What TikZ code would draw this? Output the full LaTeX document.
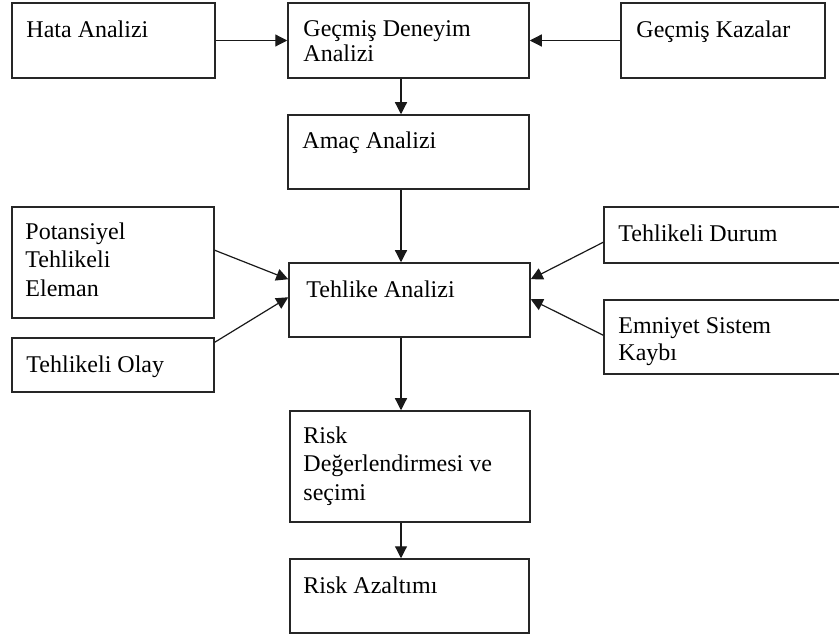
\documentclass[tikz,border=0pt]{standalone}
\usepackage{fontspec}
\setmainfont{Liberation Serif}
\usetikzlibrary{arrows.meta}
\begin{document}
\begin{tikzpicture}[x=1pt,y=-1pt,
  box/.style={draw=black!85, line width=1.5pt, rectangle, inner sep=0pt},
  lbl/.style={anchor=north west, inner sep=0pt, align=left,
    font=\fontsize{24}{27}\selectfont},
  arr/.style={draw=black!90, line width=1.2pt, -{Triangle[length=12pt,width=12pt]}}]
\useasboundingbox (0,0) rectangle (839,639);
\clip (0,0) rectangle (839,639);

% boxes
\node[box, minimum width=203pt, minimum height=75pt] (hata)  at (113.5,40.5) {};
\node[box, minimum width=241pt, minimum height=75pt] (gd)    at (408.5,40.5) {};
\node[box, minimum width=204pt, minimum height=75pt] (kaz)   at (723,40.5) {};
\node[box, minimum width=241pt, minimum height=74pt] (amac)  at (408.5,152) {};
\node[box, minimum width=202pt, minimum height=111pt] (pot)  at (113,262.5) {};
\node[box, minimum width=241pt, minimum height=74pt] (teh)   at (409.5,300) {};
\node[box, minimum width=202pt, minimum height=54pt] (olay)  at (113,365) {};
\node[box, minimum width=241pt, minimum height=56pt] (durum) at (724.5,235) {};
\node[box, minimum width=241pt, minimum height=74pt] (emn)   at (724.5,337) {};
\node[box, minimum width=240pt, minimum height=111pt] (risk) at (410,466.5) {};
\node[box, minimum width=239pt, minimum height=74pt] (azalt) at (409.5,596) {};

% labels
\node[lbl] (thata)  at ([xshift=15pt,yshift=-18pt]hata.north west) {Hata Analizi};
\node[lbl, font=\fontsize{24}{25}\selectfont] (tgd) at ([xshift=16pt,yshift=-18pt]gd.north west) {Geçmiş Deneyim\\Analizi};
\node[lbl] (tkaz)   at ([xshift=16pt,yshift=-18pt]kaz.north west) {Geçmiş Kazalar};
\node[lbl] (tamac)  at ([xshift=15pt,yshift=-17pt]amac.north west) {Amaç Analizi};
\node[lbl, font=\fontsize{24}{28.5}\selectfont] (tpot) at ([xshift=14pt,yshift=-16pt]pot.north west) {Potansiyel\\Tehlikeli\\Eleman};
\node[lbl] (tteh)   at ([xshift=18pt,yshift=-18pt]teh.north west) {Tehlike Analizi};
\node[lbl] (tolay)  at ([xshift=15pt,yshift=-18pt]olay.north west) {Tehlikeli Olay};
\node[lbl] (tdurum) at ([xshift=15pt,yshift=-18pt]durum.north west) {Tehlikeli Durum};
\node[lbl] (temn)   at ([xshift=15pt,yshift=-18pt]emn.north west) {Emniyet Sistem\\Kaybı};
\node[lbl, font=\fontsize{24}{28.5}\selectfont] (trisk) at ([xshift=14pt,yshift=-16pt]risk.north west) {Risk\\Değerlendirmesi ve\\seçimi};
\node[lbl] (tazalt) at ([xshift=14pt,yshift=-18pt]azalt.north west) {Risk Azaltımı};

% vertical axis of the main chain
\coordinate (ax) at (401,0);

% connectors
\draw[arr] (hata.east) -- (gd.west);
\draw[arr] (kaz.west) -- (gd.east);
\draw[arr] (gd.south -| ax) -- (amac.north -| ax);
\draw[arr] (amac.south -| ax) -- (teh.north -| ax);
\draw[arr] ([yshift=-44pt]pot.north east) -- ([yshift=-17pt]teh.north west);
\draw[arr] ([yshift=-5pt]olay.north east) -- ([yshift=-35pt]teh.north west);
\draw[arr] ([yshift=-36pt]durum.north west) -- ([yshift=-17pt]teh.north east);
\draw[arr] ([yshift=-36pt]emn.north west) -- ([yshift=-37pt]teh.north east);
\draw[arr] (teh.south -| ax) -- (risk.north -| ax);
\draw[arr] (risk.south -| ax) -- (azalt.north -| ax);
\end{tikzpicture}
\end{document}
